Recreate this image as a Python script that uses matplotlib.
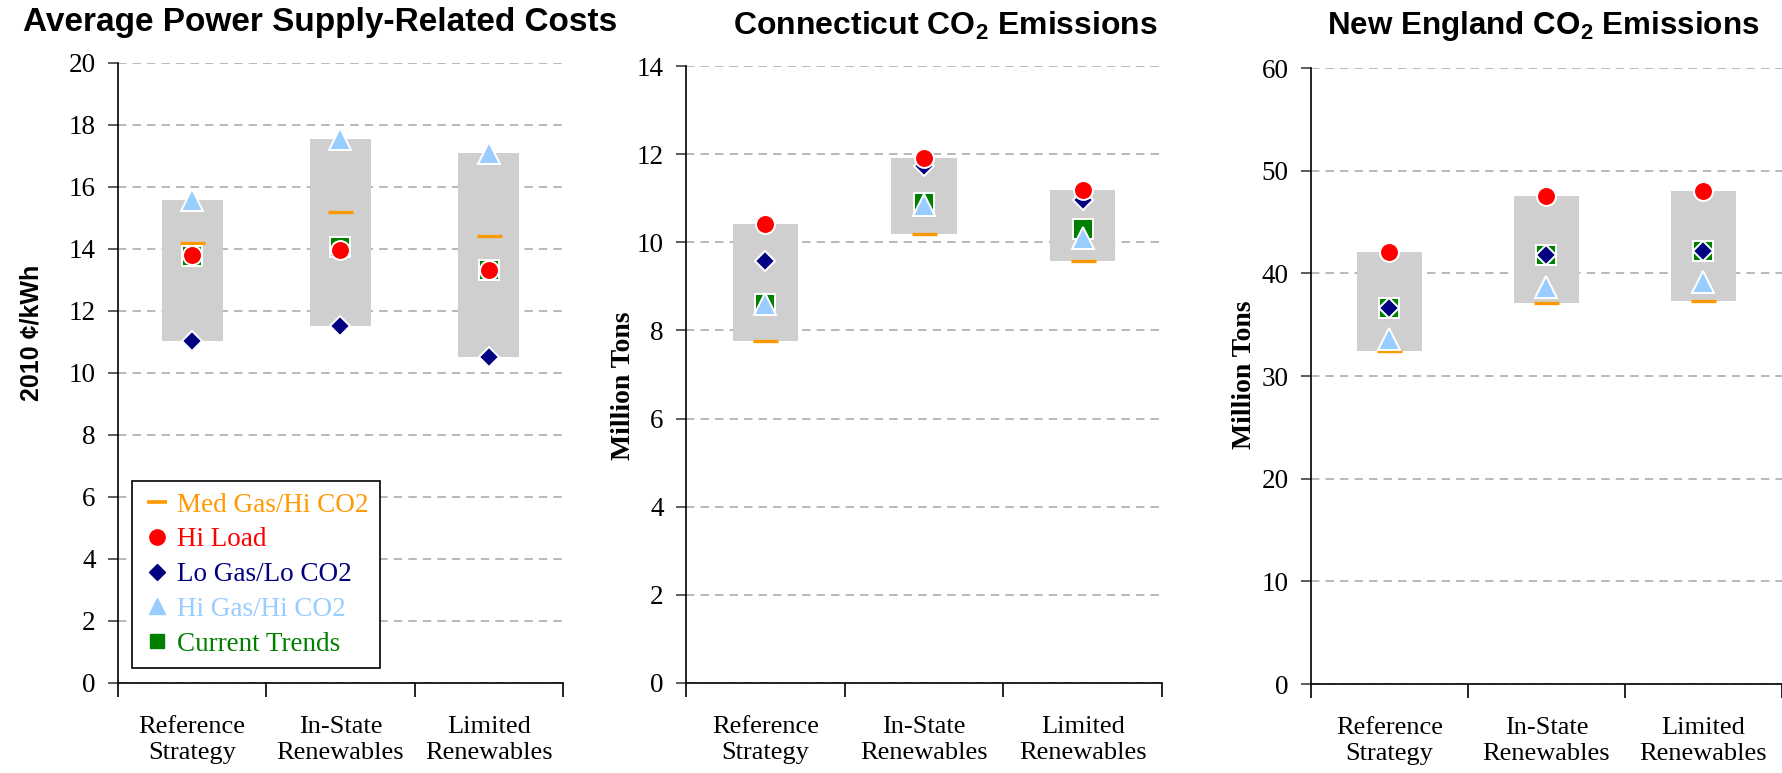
import matplotlib
matplotlib.use("Agg")
import matplotlib.pyplot as plt
from matplotlib.lines import Line2D
import numpy as np

# ---------------------------------------------------------------- data
categories = ["Reference\nStrategy", "In-State\nRenewables", "Limited\nRenewables"]
scenarios = ["Med Gas/Hi CO2", "Hi Load", "Lo Gas/Lo CO2", "Hi Gas/Hi CO2", "Current Trends"]

# Average power supply-related costs (2010 cents/kWh)
cost_med_gas = [14.20, 15.19, 14.43]
cost_hi_load = [13.80, 13.98, 13.33]
cost_lo_gas = [11.03, 11.52, 10.53]
cost_hi_gas = [15.57, 17.55, 17.10]
cost_trends = [13.76, 14.07, 13.33]

# Connecticut CO2 emissions (million tons)
ct_med_gas = [7.75, 10.18, 9.57]
ct_hi_load = [10.41, 11.91, 11.19]
ct_lo_gas = [9.58, 11.72, 10.96]
ct_hi_gas = [8.60, 10.84, 10.09]
ct_trends = [8.61, 10.89, 10.30]

# New England CO2 emissions (million tons)
ne_med_gas = [32.45, 37.12, 37.27]
ne_hi_load = [42.04, 47.54, 48.05]
ne_lo_gas = [36.60, 41.82, 42.14]
ne_hi_gas = [33.60, 38.69, 39.12]
ne_trends = [36.60, 41.82, 42.14]

# ---------------------------------------------------------------- style
ORANGE = "#FF9900"
RED = "#FF0000"
NAVY = "#000080"
LIGHTBLUE = "#99CCFF"
GREEN = "#008000"
BOX = "#CFCFCF"
GRID = "#A6A6A6"

SERIF = ["Liberation Serif", "DejaVu Serif"]
SANS = ["Liberation Sans", "DejaVu Sans"]

plt.rcParams["font.family"] = SERIF
plt.rcParams["mathtext.fontset"] = "custom"
plt.rcParams["mathtext.rm"] = "Liberation Sans:bold"
plt.rcParams["mathtext.bf"] = "Liberation Sans:bold"
plt.rcParams["mathtext.it"] = "Liberation Sans:bold"

W, H = 1783, 773
fig = plt.figure(figsize=(W / 100, H / 100), dpi=100)


def px_axes(left, right, bottom, top):
    return fig.add_axes([left / W, (H - bottom) / H, (right - left) / W, (bottom - top) / H])


def draw_panel(ax, med, load, lo, hi, trends, ymax, ystep):
    x = np.arange(len(categories))
    vals = np.array([med, load, lo, hi, trends])
    vmin = vals.min(axis=0)
    vmax = vals.max(axis=0)
    ax.bar(x, vmax - vmin, bottom=vmin, width=0.41, color=BOX, zorder=2)

    ax.plot(x, med, ls="none", marker="_", ms=18, mew=2.4, color=ORANGE, zorder=3, clip_on=False)
    ax.plot(x, trends, ls="none", marker="s", ms=15, mfc=GREEN, mec="white", mew=1.4, zorder=4, clip_on=False)
    ax.plot(x, hi, ls="none", marker="^", ms=15.5, mfc=LIGHTBLUE, mec="white", mew=1.4, zorder=5, clip_on=False)
    ax.plot(x, lo, ls="none", marker="D", ms=10.2, mfc=NAVY, mec="white", mew=1.4, zorder=6, clip_on=False)
    ax.plot(x, load, ls="none", marker="o", ms=13.6, mfc=RED, mec="white", mew=1.4, zorder=7, clip_on=False)

    ax.set_xlim(-0.5, len(categories) - 0.5)
    ax.set_ylim(0, ymax)
    ax.set_yticks(np.arange(0, ymax + ystep / 2, ystep))

    ax.set_xticks(x)
    ax.set_xticklabels(categories, fontsize=19, family=SERIF, linespacing=1.2)
    ax.tick_params(axis="x", which="major", length=0, pad=24)
    ax.set_xticks(np.arange(-0.5, len(categories)), minor=True)
    ax.tick_params(axis="x", which="minor", length=10, width=1.2, direction="out", color="black")
    ax.tick_params(axis="y", which="major", length=7, width=1.2, direction="out", pad=9,
                   labelsize=19.5, color="#404040")
    for lab in ax.get_yticklabels():
        lab.set_family(SERIF)

    for side in ("top", "right"):
        ax.spines[side].set_visible(False)
    ax.spines["left"].set_color("black")
    ax.spines["left"].set_linewidth(1.2)
    ax.spines["bottom"].set_color("black")
    ax.spines["bottom"].set_linewidth(1.2)

    ax.yaxis.grid(True, color=GRID, lw=1.1, ls=(0, (5.5, 4.0)))
    ax.set_axisbelow(True)


# Panel 1: costs
ax1 = px_axes(118, 563, 683, 63)
draw_panel(ax1, cost_med_gas, cost_hi_load, cost_lo_gas, cost_hi_gas, cost_trends, 20, 2)

# Panel 2: Connecticut
ax2 = px_axes(686, 1162, 683, 66)
draw_panel(ax2, ct_med_gas, ct_hi_load, ct_lo_gas, ct_hi_gas, ct_trends, 14, 2)

# Panel 3: New England
ax3 = px_axes(1311, 1782, 684, 68)
draw_panel(ax3, ne_med_gas, ne_hi_load, ne_lo_gas, ne_hi_gas, ne_trends, 60, 10)

# Titles
fig.text(320 / W, 1 - 23 / H, "Average Power Supply-Related Costs", ha="center", va="center",
         family=SANS, weight="bold", fontsize=24)
fig.text(945 / W, 1 - 26 / H, r"Connecticut CO$_{\mathbf{2}}$ Emissions", ha="center", va="center",
         family=SANS, weight="bold", fontsize=23)
fig.text(1543 / W, 1 - 26 / H, r"New England CO$_{\mathbf{2}}$ Emissions", ha="center", va="center",
         family=SANS, weight="bold", fontsize=22.6)

# Axis labels
fig.text(32 / W, 1 - 333 / H, "2010 ¢/kWh", rotation=90, ha="center", va="center",
         family=SANS, weight="bold", fontsize=18)
fig.text(623 / W, 1 - 386 / H, "Million Tons", rotation=90, ha="center", va="center",
         family=SERIF, weight="bold", fontsize=20)
fig.text(1245 / W, 1 - 375 / H, "Million Tons", rotation=90, ha="center", va="center",
         family=SERIF, weight="bold", fontsize=20)

# Legend
handles = [
    Line2D([], [], ls="none", marker="_", ms=14, mew=2.6, color=ORANGE),
    Line2D([], [], ls="none", marker="o", ms=11, color=RED),
    Line2D([], [], ls="none", marker="D", ms=8, color=NAVY),
    Line2D([], [], ls="none", marker="^", ms=11, color=LIGHTBLUE),
    Line2D([], [], ls="none", marker="s", ms=10, color=GREEN),
]
leg = ax1.legend(handles, scenarios, loc="lower left",
                 bbox_to_anchor=((132 - 118) / 445, (683 - 668) / 620),
                 prop={"family": SERIF, "size": 19.5}, frameon=True, fancybox=False,
                 edgecolor="black", framealpha=1, borderpad=0.42, labelspacing=0.36,
                 handlelength=1.0, handletextpad=0.25, borderaxespad=0)
leg.get_frame().set_linewidth(1.2)
for txt, col in zip(leg.get_texts(), [ORANGE, RED, NAVY, LIGHTBLUE, GREEN]):
    txt.set_color(col)
leg.set_zorder(10)

fig.savefig("out.png", dpi=100)
